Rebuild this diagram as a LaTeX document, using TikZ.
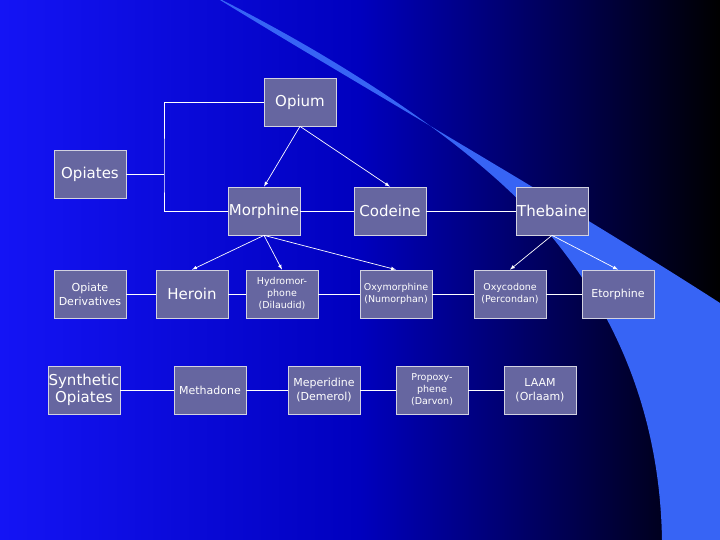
\documentclass[tikz,border=0pt]{standalone}
\usepackage{fontspec}
\setmainfont{DejaVu Sans}
\definecolor{bgl}{RGB}{20,20,245}
\definecolor{bgm}{RGB}{0,0,190}
\definecolor{swoosh}{RGB}{55,100,245}
\definecolor{boxf}{RGB}{102,102,160}
\definecolor{boxd}{RGB}{210,210,225}
\begin{document}
\begin{tikzpicture}[x=1pt,y=-1pt,
  bx/.style={draw=boxd,line width=0.7pt,fill=boxf,text=white,minimum width=72pt,minimum height=48pt,inner sep=0pt,align=center,font=\fontsize{15}{17}\selectfont},
  sm/.style={font=\fontsize{11}{14}\selectfont},
  xs/.style={font=\fontsize{9.5}{12}\selectfont},
  ln/.style={draw=white,line width=0.7pt},
  ar/.style={ln,-latex}]
\useasboundingbox (0,0) rectangle (720,540);
\shade[left color=bgl,right color=black,middle color=bgm] (0,0) rectangle (720,540);
\fill[swoosh] (220,0) .. controls (350,80) and (560,200) .. (720,303) -- (720,540) -- (662,540) .. controls (660,420) and (620,320) .. (552,237) .. controls (500,170) and (380,80) .. (222,0) -- cycle;
\node[bx] (opium) at (300,102) {Opium};
\node[bx] (opiates) at (90,174) {Opiates};
\node[bx] (morph) at (264,211) {Morphine};
\node[bx] (cod) at (390,211) {Codeine};
\node[bx] (theb) at (552,211) {Thebaine};
\node[bx,sm] (deriv) at (90,294) {Opiate\\Derivatives};
\node[bx] (heroin) at (192,294) {Heroin};
\node[bx,xs] (hydro) at (282,294) {Hydromor-\\phone\\(Dilaudid)};
\node[bx,xs] (oxym) at (396,294) {Oxymorphine\\(Numorphan)};
\node[bx,xs] (oxyc) at (510,294) {Oxycodone\\(Percondan)};
\node[bx,sm] (etor) at (618,294) {Etorphine};
\node[bx] (synth) at (84,390) {Synthetic\\Opiates};
\node[bx,sm] (meth) at (210,390) {Methadone};
\node[bx,sm] (mep) at (324,390) {Meperidine\\(Demerol)};
\node[bx,xs] (prop) at (432,390) {Propoxy-\\phene\\(Darvon)};
\node[bx,sm] (laam) at (540,390) {LAAM\\(Orlaam)};
\coordinate (j) at (164,174);
\draw[ln] (opiates.east) -- (j);
\draw[ln] (opium.west) -| (j) |- (morph.west);
\draw[ln] (morph) -- (cod) (cod) -- (theb);
\draw[ar] (opium.south) -- (morph.north);
\draw[ar] (opium.south) -- (cod.north);
\draw[ar] (morph.south) -- (heroin.north);
\draw[ar] (morph.south) -- (hydro.north);
\draw[ar] (morph.south) -- (oxym.north);
\draw[ar] (theb.south) -- (oxyc.north);
\draw[ar] (theb.south) -- (etor.north);
\draw[ln] (deriv) -- (heroin) (heroin) -- (hydro) (hydro) -- (oxym) (oxym) -- (oxyc) (oxyc) -- (etor);
\draw[ln] (synth) -- (meth) (meth) -- (mep) (mep) -- (prop) (prop) -- (laam);
\end{tikzpicture}
\end{document}
